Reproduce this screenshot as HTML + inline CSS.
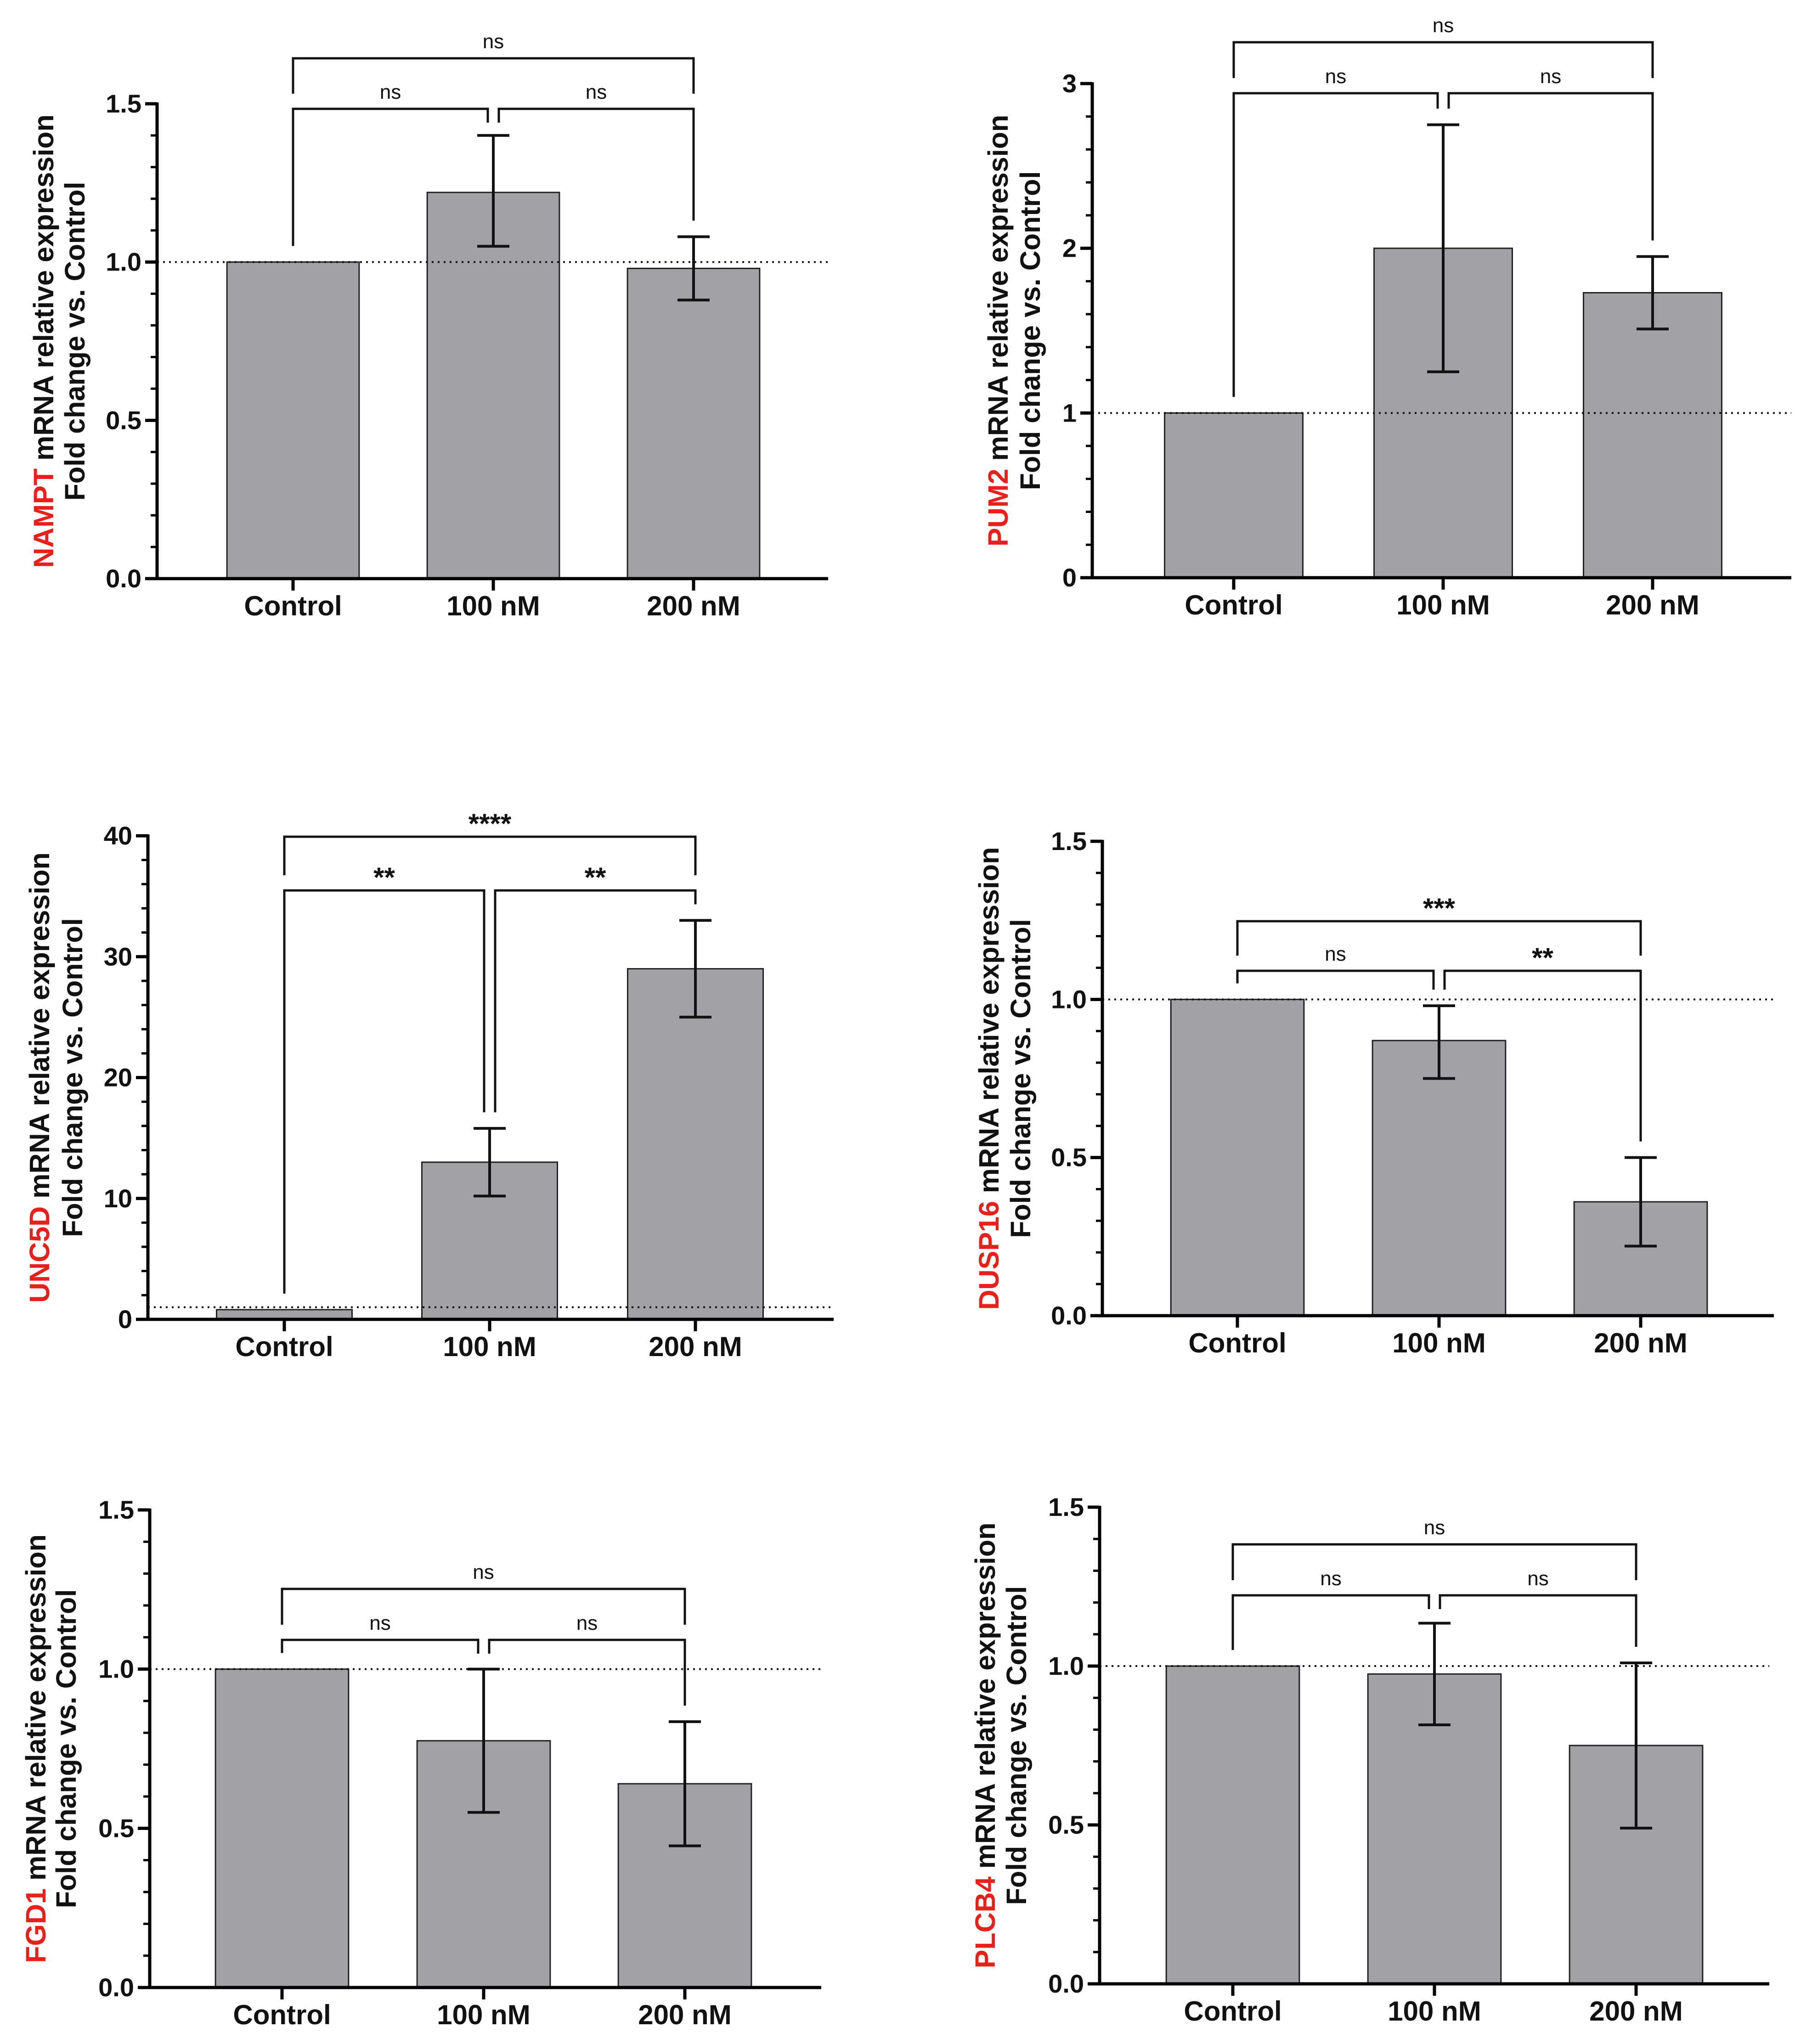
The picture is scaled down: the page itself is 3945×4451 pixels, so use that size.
<!DOCTYPE html>
<html><head><meta charset="utf-8">
<style>
html,body{margin:0;padding:0;background:#fff;}
svg{display:block;}
text{font-family:"Liberation Sans",Arial,sans-serif;}
</style></head>
<body>
<svg id="fig" width="3945" height="4451" viewBox="0 0 3945 4451" xmlns="http://www.w3.org/2000/svg"></svg>
<script>
const categories = ["Control","100 nM","200 nM"];
const geneNames = ["NAMPT","PUM2","UNC5D","DUSP16","FGD1","PLCB4"];
const meanNAMPT = [1.0,1.22,0.98];   const errLoNAMPT=[1.0,1.05,0.88];  const errHiNAMPT=[1.0,1.40,1.08];
const meanPUM2 = [1.0,2.0,1.73];     const errLoPUM2=[1.0,1.25,1.51];   const errHiPUM2=[1.0,2.75,1.95];
const meanUNC5D = [0.8,13,29];       const errLoUNC5D=[0.8,10.2,25];    const errHiUNC5D=[0.8,15.8,33];
const meanDUSP16 = [1.0,0.87,0.36];  const errLoDUSP16=[1.0,0.75,0.22]; const errHiDUSP16=[1.0,0.98,0.50];
const meanFGD1 = [1.0,0.775,0.64];   const errLoFGD1=[1.0,0.55,0.445];  const errHiFGD1=[1.0,1.0,0.835];
const meanPLCB4 = [1.0,0.975,0.75];  const errLoPLCB4=[1.0,0.815,0.49]; const errHiPLCB4=[1.0,1.135,1.01];
const ticks15 = ["0.0","0.5","1.0","1.5"];
const ticksPUM2 = ["0","1","2","3"];
const ticksUNC5D = ["0","10","20","30","40"];
const sigNAMPT=["ns","ns","ns"], sigPUM2=["ns","ns","ns"], sigUNC5D=["**","**","****"];
const sigDUSP16=["ns","**","***"], sigFGD1=["ns","ns","ns"], sigPLCB4=["ns","ns","ns"];

const NS="http://www.w3.org/2000/svg";
const svg=document.getElementById('fig');
function mk(tag,attrs,parent){const e=document.createElementNS(NS,tag);for(const k in attrs)e.setAttribute(k,attrs[k]);(parent||svg).appendChild(e);return e;}

const panels=[
 {gene:0,mean:meanNAMPT,lo:errLoNAMPT,hi:errHiNAMPT,ticks:ticks15,ymax:1.5,minor:0.1,sig:sigNAMPT,ax:342,ay0:1260,aytop:226,axEnd:1803,cx:[638,1074,1510],b1:237,b2:127,tx:[94,162]},
 {gene:1,mean:meanPUM2,lo:errLoPUM2,hi:errHiPUM2,ticks:ticksPUM2,ymax:3,minor:0.2,sig:sigPUM2,ax:2378,ay0:1258,aytop:182,axEnd:3900,cx:[2686,3142,3598],b1:203,b2:92,tx:[2172,2242]},
 {gene:2,mean:meanUNC5D,lo:errLoUNC5D,hi:errHiUNC5D,ticks:ticksUNC5D,ymax:40,minor:2,sig:sigUNC5D,ax:322,ay0:2873,aytop:1820,axEnd:1815,cx:[619,1066,1514],b1:1939,b2:1822,tx:[85,157]},
 {gene:3,mean:meanDUSP16,lo:errLoDUSP16,hi:errHiDUSP16,ticks:ticks15,ymax:1.5,minor:0.1,sig:sigDUSP16,ax:2400,ay0:2865,aytop:1832,axEnd:3862,cx:[2694,3133,3572],b1:2114,b2:2006,tx:[2152,2221]},
 {gene:4,mean:meanFGD1,lo:errLoFGD1,hi:errHiFGD1,ticks:ticks15,ymax:1.5,minor:0.1,sig:sigFGD1,ax:326,ay0:4328,aytop:3288,axEnd:1788,cx:[614,1053,1491],b1:3571,b2:3460,tx:[77,143]},
 {gene:5,mean:meanPLCB4,lo:errLoPLCB4,hi:errHiPLCB4,ticks:ticks15,ymax:1.5,minor:0.1,sig:sigPLCB4,ax:2394,ay0:4320,aytop:3282,axEnd:3852,cx:[2684,3123,3562],b1:3474,b2:3363,tx:[2144,2212]}
];

panels.forEach(p=>{
  const g=mk('g',{});
  
  
  const y=v=>p.ay0-(v/p.ymax)*(p.ay0-p.aytop);
  const spacing=p.cx[1]-p.cx[0];
  const bw=spacing*0.66;
  p.mean.forEach((v,i)=>{
    const r=mk('rect',{x:p.cx[i]-bw/2,y:y(v),width:bw,height:p.ay0-y(v),fill:'#a2a1a6',stroke:'#222','stroke-width':3},g);
    
    
  });
  const ref=mk('line',{x1:p.ax,x2:p.axEnd,y1:y(1),y2:y(1),stroke:'#111','stroke-width':4,'stroke-dasharray':'4 9'},g);
  
  
  p.mean.forEach((v,i)=>{
    if(p.hi[i]===p.lo[i])return;
    const eg=mk('g',{stroke:'#111','stroke-width':6,fill:'none'},g);
    
    
    mk('line',{x1:p.cx[i],x2:p.cx[i],y1:y(p.hi[i]),y2:y(p.lo[i])},eg);
    mk('line',{x1:p.cx[i]-35,x2:p.cx[i]+35,y1:y(p.hi[i]),y2:y(p.hi[i])},eg);
    mk('line',{x1:p.cx[i]-35,x2:p.cx[i]+35,y1:y(p.lo[i]),y2:y(p.lo[i])},eg);
  });
  const axg=mk('g',{stroke:'#000','stroke-width':7},g);
  
  
  mk('line',{x1:p.ax,x2:p.ax,y1:p.aytop-3,y2:p.ay0+3},axg);
  mk('line',{x1:p.ax,x2:p.axEnd,y1:p.ay0,y2:p.ay0},axg);
  const nMinor=Math.round(p.ymax/p.minor);
  for(let k=0;k<=nMinor;k++){
    mk('line',{x1:p.ax-14,x2:p.ax,y1:y(k*p.minor),y2:y(k*p.minor),'stroke-width':5},axg);
  }
  p.ticks.forEach((t,k)=>{
    const v=k*p.ymax/(p.ticks.length-1);
    mk('line',{x1:p.ax-26,x2:p.ax,y1:y(v),y2:y(v)},axg);
    const tt=mk('text',{x:p.ax-34,y:y(v)+19,'text-anchor':'end','font-size':56,'font-weight':'bold',fill:'#111'},g);
    tt.textContent=t;
    
    
  });
  categories.forEach((c,i)=>{
    mk('line',{x1:p.cx[i],x2:p.cx[i],y1:p.ay0,y2:p.ay0+26},axg);
    const ct=mk('text',{x:p.cx[i],y:p.ay0+80,'text-anchor':'middle','font-size':60,'font-weight':'bold',fill:'#111'},g);
    ct.textContent=c;
    
    
  });
  const yc=(p.ay0+p.aytop)/2;
  const t1=mk('text',{x:0,y:0,transform:`translate(${p.tx[0]+22},${yc}) rotate(-90)`,'text-anchor':'middle','font-size':61,'font-weight':'bold',fill:'#111'},g);
  
  
  const sp=mk('tspan',{fill:'#e8201c'},t1);sp.textContent=geneNames[p.gene];
  const sp2=mk('tspan',{},t1);sp2.textContent=' mRNA relative expression';
  const t2=mk('text',{x:0,y:0,transform:`translate(${p.tx[1]+22},${yc}) rotate(-90)`,'text-anchor':'middle','font-size':61,'font-weight':'bold',fill:'#111'},g);
  t2.textContent='Fold change vs. Control';
  
  
  const legBottom=i=>y(Math.max(p.hi[i],p.mean[i]))-35;
  const bg=mk('g',{stroke:'#111','stroke-width':5,fill:'none'},g);
  
  
  const off=12;
  const br=(xa,xb,yy,la,lb,label)=>{
    mk('path',{d:`M${xa},${la} L${xa},${yy} L${xb},${yy} L${xb},${lb}`},bg);
    const star=label.indexOf('*')>=0;
    const st=mk('text',{x:(xa+xb)/2,y:yy-(star?8:22),'text-anchor':'middle','font-size':star?60:44,'font-weight':star?'bold':'normal',fill:'#111'},g);
    st.textContent=label;
    
    
  };
  br(p.cx[0],p.cx[1]-off,p.b1,legBottom(0),Math.max(legBottom(1),p.b1+30),p.sig[0]);
  br(p.cx[1]+off,p.cx[2],p.b1,Math.max(legBottom(1),p.b1+30),legBottom(2),p.sig[1]);
  br(p.cx[0],p.cx[2],p.b2,p.b1-33,p.b1-33,p.sig[2]);
});
</script>
</body></html>
